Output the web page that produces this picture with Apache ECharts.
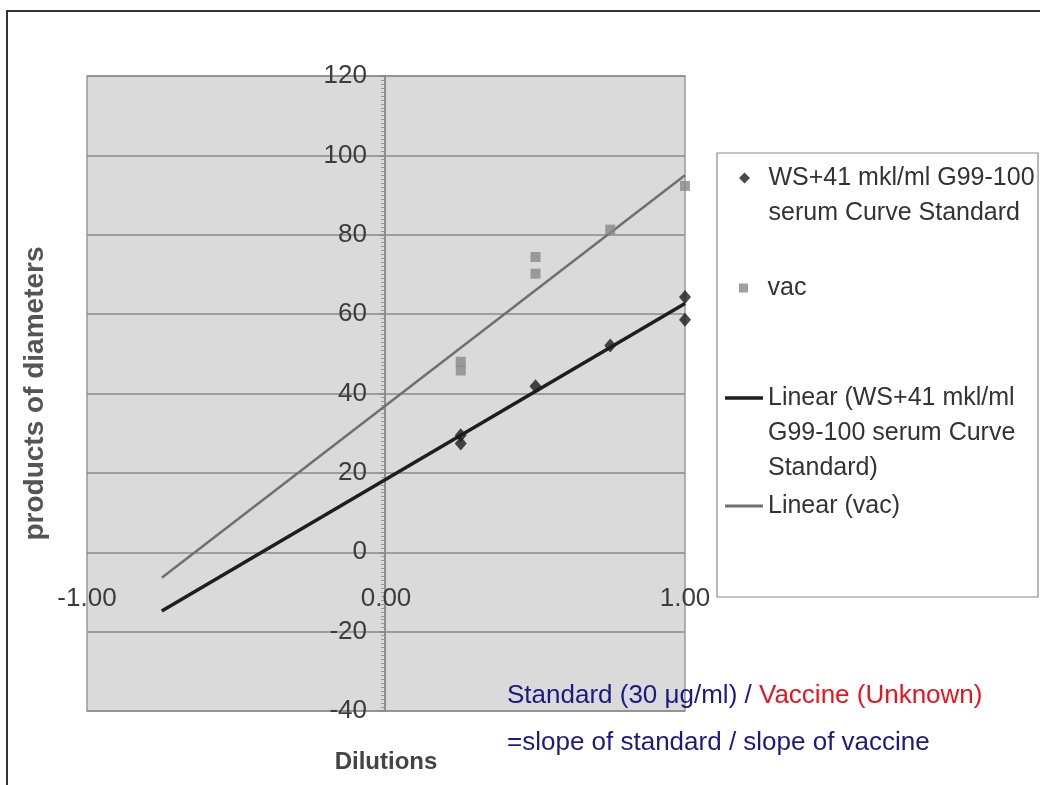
<!DOCTYPE html>
<html><head><meta charset="utf-8">
<script src="https://cdn.jsdelivr.net/npm/echarts@6/dist/echarts.min.js"></script>
<style>html,body{margin:0;padding:0;background:#fff}#c{width:1040px;height:785px}</style>
</head><body><div id="c"></div>
<script>
// ---- data ----
const stdX = [0.25, 0.25, 0.5, 0.75, 1.0, 1.0];
const stdY = [29.5, 27.4, 41.8, 52.1, 64.3, 58.6];
const vacX = [0.25, 0.25, 0.5, 0.5, 0.75, 1.0];
const vacY = [48.0, 45.8, 74.4, 70.2, 81.3, 92.3];
const trendStdX = [-0.75, 1.0];
const trendStdY = [-14.8, 62.7];
const trendVacX = [-0.75, 1.0];
const trendVacY = [-6.4, 95.0];
const seriesNames = [
  'WS+41 mkl/ml G99-100 serum Curve Standard',
  'vac',
  'Linear (WS+41 mkl/ml G99-100 serum Curve Standard)',
  'Linear (vac)'
];
const legendLines = [
  ['WS+41 mkl/ml G99-100', 'serum Curve Standard'],
  ['vac'],
  ['Linear (WS+41 mkl/ml', 'G99-100 serum Curve', 'Standard)'],
  ['Linear (vac)']
];
const xTickMin = -1, xTickMax = 1, xTickStep = 1;
const yTickMin = -40, yTickMax = 120, yTickStep = 20;
const yAxisTitle = 'products of diameters';
const xAxisTitle = 'Dilutions';
const note1a = 'Standard (30 \u03bcg/ml) / ';
const note1b = 'Vaccine (Unknown)';
const note2 = '=slope of standard / slope of vaccine';

const pairs = (xs, ys) => xs.map((x, i) => [x, ys[i]]);
const textFont = "'Liberation Sans', Arial, sans-serif";

const chart = echarts.init(document.getElementById('c'), null, {renderer: 'canvas'});
const LH = 35;
const legendIconY = [178, 288, 398, 506];
const legendLeft = [739, 739, 725, 725];
const legendIcons = [
  'path://M5 0L10 5L5 10L0 5Z',
  'path://M0 0H10V10H0Z',
  'path://M0 0H38V3.5H0Z',
  'path://M0 0H38V3H0Z'
];
const legendIconH = [11, 9, 10, 10];
const legendColors = ['#1c1c1c', '#888888', '#1e1e1e', '#707070'];

// one legend per item: blank lines are prepended so the first text line sits on the icon
const legends = seriesNames.map((n, i) => {
  const lines = legendLines[i];
  const k = lines.length;
  const padded = new Array(k - 1).fill('').concat(lines).join('\n');
  const h = (2 * k - 1) * LH;
  return {
    orient: 'vertical', left: legendLeft[i], top: legendIconY[i] - h / 2, padding: 0,
    itemWidth: 38, itemHeight: legendIconH[i], selectedMode: false, symbolKeepAspect: true,
    textStyle: {fontFamily: textFont, fontSize: 25, lineHeight: LH, color: '#333'},
    formatter: () => padded,
    data: [{name: n, icon: legendIcons[i], itemStyle: {color: legendColors[i], borderWidth: 0}}]
  };
});

chart.setOption({
  animation: false,
  backgroundColor: '#ffffff',
  grid: {left: 87, right: 355, top: 76, bottom: 74, show: true,
         backgroundColor: '#dadada', borderColor: '#9a9a9a', borderWidth: 1.5,
         containLabel: false, outerBoundsMode: 'none'},
  xAxis: {
    type: 'value', min: xTickMin, max: xTickMax, interval: xTickStep,
    position: 'bottom', offset: -159,
    name: xAxisTitle, nameLocation: 'middle', nameGap: 198,
    nameTextStyle: {fontFamily: textFont, fontWeight: 'bold', fontSize: 24, color: '#444'},
    axisLine: {show: false, onZero: false},
    axisTick: {show: false},
    splitLine: {show: false},
    axisLabel: {margin: 34, fontFamily: textFont, fontSize: 26, color: '#3c3c3c',
                formatter: v => v.toFixed(2)}
  },
  yAxis: {
    type: 'value', min: yTickMin, max: yTickMax, interval: yTickStep,
    position: 'left', offset: -298,
    name: yAxisTitle, nameLocation: 'middle', nameGap: 336,
    nameTextStyle: {fontFamily: textFont, fontWeight: 'bold', fontSize: 28, color: '#555'},
    axisLine: {show: true, onZero: false, lineStyle: {color: '#8c8c8c', width: 2}},
    axisTick: {show: true, length: 6, lineStyle: {color: '#8c8c8c', width: 1.5}},
    minorTick: {show: true, splitNumber: 20, length: 4, lineStyle: {color: '#9a9a9a', width: 1}},
    splitLine: {show: true, lineStyle: {color: '#8a8a8a', width: 1.5}},
    axisLabel: {margin: 18, fontFamily: textFont, fontSize: 26, color: '#3c3c3c'}
  },
  legend: legends,
  graphic: [
    {type: 'rect', shape: {x: 7, y: 11, width: 1100, height: 900},
     style: {fill: 'none', stroke: '#333', lineWidth: 2}, silent: true},
    {type: 'rect', shape: {x: 717, y: 153, width: 321, height: 444},
     style: {fill: '#fff', stroke: '#8a8a8a', lineWidth: 1.2}, silent: true},
    {type: 'text', left: 507, top: 683, silent: true,
     style: {text: '{b|' + note1a + '}{r|' + note1b + '}',
             rich: {b: {fill: '#1a1a80', fontSize: 26, fontFamily: textFont},
                    r: {fill: '#e8141e', fontSize: 26, fontFamily: textFont}}}},
    {type: 'text', left: 507, top: 730, silent: true,
     style: {text: note2, fill: '#1a1a80', fontSize: 26, fontFamily: textFont}}
  ],
  series: [
    {name: seriesNames[0], type: 'scatter', data: pairs(stdX, stdY), symbol: 'diamond',
     symbolSize: [12, 14], itemStyle: {color: '#1c1c1c'}, z: 5},
    {name: seriesNames[1], type: 'scatter', data: pairs(vacX, vacY), symbol: 'rect',
     symbolSize: 10, itemStyle: {color: '#888888'}, z: 5},
    {name: seriesNames[2], type: 'line', data: pairs(trendStdX, trendStdY), symbol: 'none',
     lineStyle: {color: '#1e1e1e', width: 3.5}, itemStyle: {color: '#1e1e1e'}, z: 3},
    {name: seriesNames[3], type: 'line', data: pairs(trendVacX, trendVacY), symbol: 'none',
     lineStyle: {color: '#707070', width: 2.5}, itemStyle: {color: '#707070'}, z: 3}
  ]
});
</script></body></html>
